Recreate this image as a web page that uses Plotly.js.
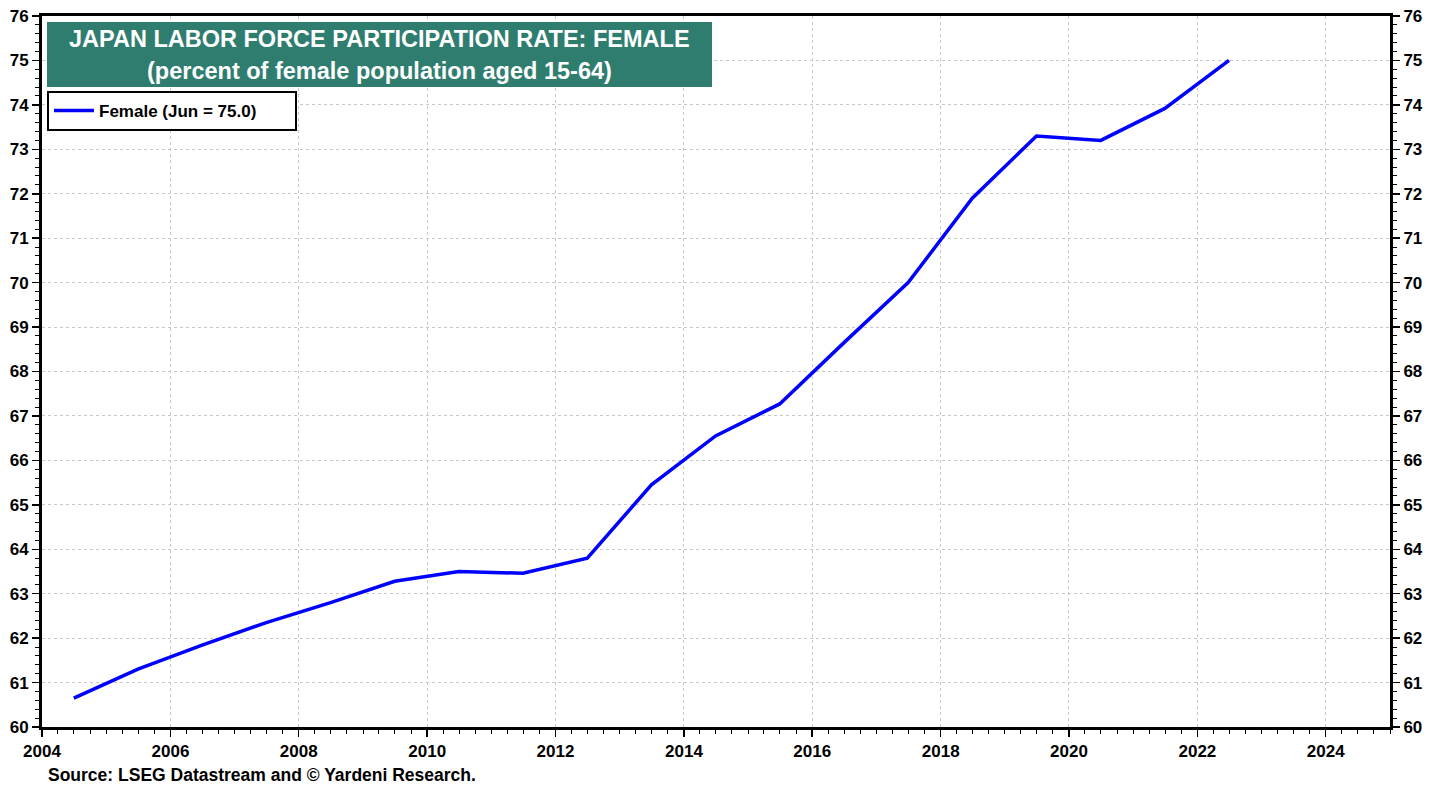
<!DOCTYPE html>
<html>
<head>
<meta charset="utf-8">
<script src="https://cdn.plot.ly/plotly-3.0.1.min.js"></script>
<style>html,body{margin:0;padding:0;background:#fff;}#chart{width:1443px;height:787px;}</style>
</head>
<body>
<div id="chart"></div>
<script>
// Data (annual, June readings)
const dates = ["2004-06-30","2005-06-30","2006-06-30","2007-06-30","2008-06-30","2009-06-30","2010-06-30",
  "2011-06-30","2012-06-30","2013-06-30","2014-06-30","2015-06-30","2016-06-30","2017-06-30","2018-06-30",
  "2019-06-30","2020-06-30","2021-06-30","2022-06-30"];
const female = [60.65, 61.3, 61.84, 62.35, 62.8, 63.28, 63.5, 63.46, 63.8, 65.45, 66.55, 67.27, 68.65,
  70.0, 71.9, 73.3, 73.2, 73.92, 75.0];
const seriesName = "Female (Jun = 75.0)";
const titleLine1 = "JAPAN LABOR FORCE PARTICIPATION RATE: FEMALE";
const titleLine2 = "(percent of female population aged 15-64)";
const sourceText = "Source: LSEG Datastream and © Yardeni Research.";

const FONT = "Arial, 'Liberation Sans', sans-serif";
const plotL = 42, plotR = 1390, plotT = 16, plotB = 727;
const W = plotR - plotL, H = plotB - plotT;
const px = x => (x - plotL) / W;
const py = y => (plotB - y) / H;

const traces = [
  {x: dates, y: female, type: 'scatter', mode: 'lines', name: seriesName + '\u00a0\u00a0\u00a0\u00a0\u00a0\u00a0\u00a0',
   line: {color: '#0000FF', width: 3.5}, yaxis: 'y'},
  {x: dates, y: female, type: 'scatter', mode: 'lines', showlegend: false, hoverinfo: 'skip',
   line: {color: 'rgba(0,0,0,0)', width: 0}, yaxis: 'y2'}
];

const yCommon = {
  range: [60, 76], dtick: 1, tick0: 60,
  showline: true, linecolor: '#000', linewidth: 3,
  ticks: 'outside', ticklen: 7, tickwidth: 1.5, tickcolor: '#000',
  tickfont: {family: FONT, size: 17, color: '#000', weight: 'bold'},
  minor: {dtick: 0.2, ticks: 'outside', ticklen: 4, tickcolor: '#000', tickwidth: 1, showgrid: false},
  zeroline: false, fixedrange: true
};

const layout = {
  width: 1443, height: 787,
  margin: {l: plotL, r: 1443 - plotR, t: plotT, b: 787 - plotB},
  paper_bgcolor: '#fff', plot_bgcolor: '#fff',
  showlegend: true,
  legend: {x: px(47), y: py(91), xanchor: 'left', yanchor: 'top',
    bgcolor: '#fff', bordercolor: '#000', borderwidth: 2,
    font: {family: FONT, size: 17, color: '#000', weight: 'bold'},
    itemwidth: 40, tracegroupgap: 0},
  xaxis: {
    type: 'date', range: ['2004-01-01', '2025-01-01'],
    tick0: '2004-01-01', dtick: 'M24', tickformat: '%Y',
    showline: true, linecolor: '#000', linewidth: 3, mirror: true,
    ticks: 'outside', ticklen: 7, tickwidth: 1.5, tickcolor: '#000',
    tickfont: {family: FONT, size: 17, color: '#000', weight: 'bold'},
    minor: {dtick: 'M3', ticks: 'outside', ticklen: 4, tickcolor: '#000', tickwidth: 1, showgrid: false},
    showgrid: true, gridcolor: '#c8c8c8', griddash: 'dot', gridwidth: 1,
    zeroline: false, fixedrange: true
  },
  yaxis: Object.assign({}, yCommon, {
    side: 'left', showgrid: true, gridcolor: '#c8c8c8', griddash: 'dot', gridwidth: 1
  }),
  yaxis2: Object.assign({}, yCommon, {
    side: 'right', overlaying: 'y', showgrid: false
  }),
  shapes: [
    {type: 'rect', xref: 'paper', yref: 'paper',
     x0: px(47), x1: px(712), y0: py(87), y1: py(22),
     fillcolor: '#2E7D6F', line: {width: 0}, layer: 'above'}
  ],
  annotations: [
    {xref: 'paper', yref: 'paper', x: px(379), y: py(39), xanchor: 'center', yanchor: 'middle',
     text: titleLine1, showarrow: false,
     font: {family: FONT, size: 23.5, color: '#fff', weight: 'bold'}},
    {xref: 'paper', yref: 'paper', x: px(379), y: py(71), xanchor: 'center', yanchor: 'middle',
     text: titleLine2, showarrow: false,
     font: {family: FONT, size: 23.5, color: '#fff', weight: 'bold'}},
    {xref: 'paper', yref: 'paper', x: px(46), y: py(775), xanchor: 'left', yanchor: 'middle',
     text: sourceText, showarrow: false,
     font: {family: FONT, size: 17.5, color: '#000', weight: 'bold'}}
  ]
};

Plotly.newPlot('chart', traces, layout, {displayModeBar: false, staticPlot: true});
</script>
</body>
</html>
